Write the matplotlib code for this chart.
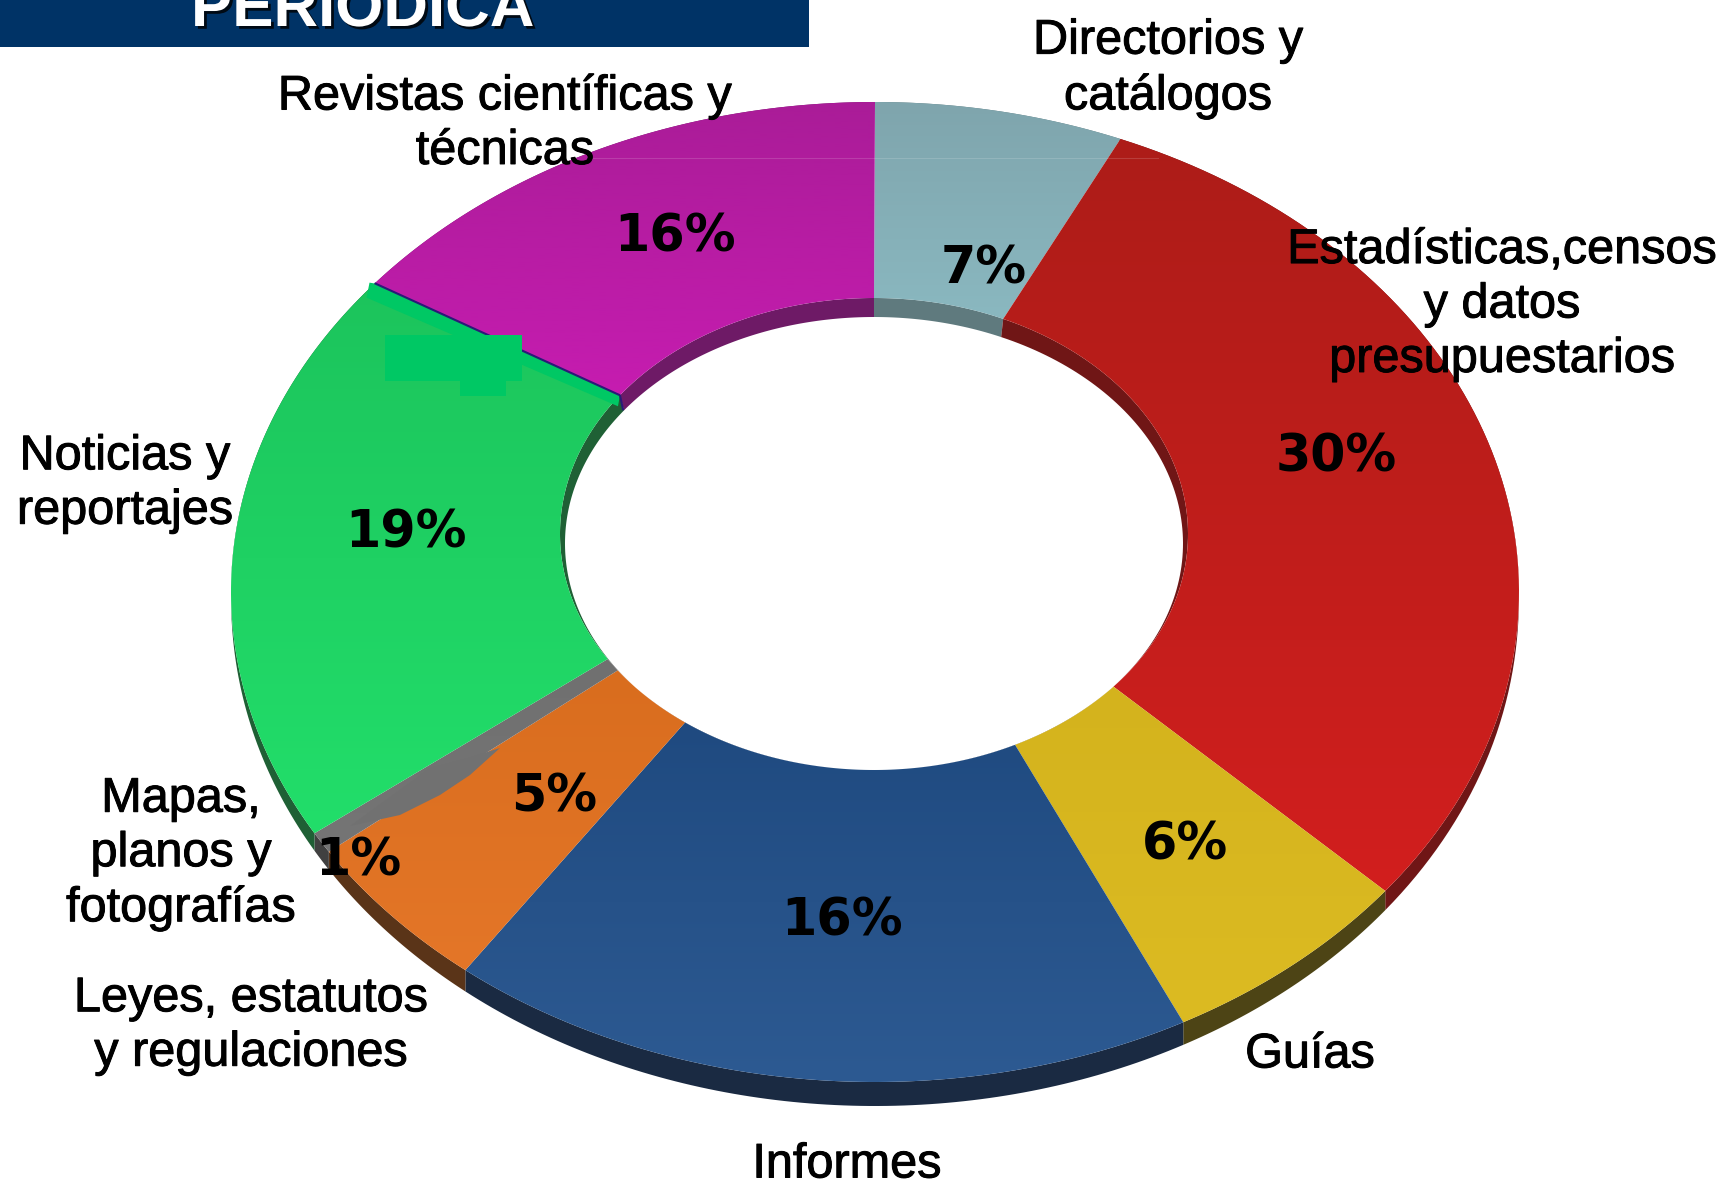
import numpy as np
import matplotlib
matplotlib.use('Agg')
import matplotlib.pyplot as plt
import matplotlib.patheffects as pe
from matplotlib.colors import to_rgb
from matplotlib.patches import Rectangle, Polygon

# ============================================================
# Data, clockwise from the top
# ============================================================
categories = ['Directorios y\ncatálogos', 'Estadísticas,censos\ny datos\npresupuestarios',
              'Guías', 'Informes', 'Leyes, estatutos\ny regulaciones',
              'Mapas,\nplanos y\nfotografías', 'Noticias y\nreportajes',
              'Revistas científicas y\ntécnicas']
values = [7, 30, 6, 16, 5, 1, 19, 16]
# sweep of each slice as drawn (the ring is in perspective, so not value * 3.6)
outer_sweep_deg = [22.4, 105.2, 23.8, 68.1, 18.5, 2.5, 68.5, 51.0]
inner_sweep_deg = [24.3, 106.0, 23.0, 63.7, 17.7, 3.3, 68.0, 54.0]
top_colors = ['#7fa5ad', '#ad1c18', '#d4b31d', '#1f4a80', '#d96d1e',
              '#707070', '#1cc45c', '#aa1c98']
bot_colors = ['#8ab8c0', '#d21f1e', '#dcbb22', '#2d5a92', '#e47628',
              '#757575', '#22de6a', '#c61cb0']
rim_colors = ['#5f7a7e', '#701616', '#4d4415', '#1a2a42', '#5a3418',
              '#404040', '#1f6035', '#6e1a66']
label_pos = [(1168, 69), (1502, 305), (1310, 1055), (847, 1165), (251, 1026),
             (181, 854), (125, 484), (505, 124)]
pct_pos = [(984, 269), (1336, 458), (1185, 846), (842, 921), (554, 798),
           (358, 861), (406, 534), (675, 237)]

W, H = 1724, 1182
fig = plt.figure(figsize=(W / 100, H / 100), dpi=100)
ax = fig.add_axes([0, 0, 1, 1])

# ring geometry in pixels: outer edge, inner edge of the top face, white hole
cx, cy, rx, ry = 875, 592, 644, 490
fx, fy, frx, fry = 874, 534, 314, 236
hx, hy, hrx, hry = 874, 543.5, 309, 226.5
rim = 22

outer_edges = 90 - np.r_[0, np.cumsum(outer_sweep_deg)]
inner_edges = 90 - np.r_[0, np.cumsum(inner_sweep_deg)]

for i in range(len(values)):
    th_o = np.radians(np.linspace(outer_edges[i], outer_edges[i + 1], 90))
    th_i = np.radians(np.linspace(inner_edges[i], inner_edges[i + 1], 90))
    xo, yo = cx + rx * np.cos(th_o), cy - ry * np.sin(th_o)
    xf, yf = fx + frx * np.cos(th_i), fy - fry * np.sin(th_i)
    xh, yh = hx + hrx * np.cos(th_i), hy - hry * np.sin(th_i)

    # darker side of the ring, below the outer edge and around the hole
    drop = rim * np.sqrt(np.clip(-np.sin(th_o), 0, 1)) + 2
    ax.fill(np.r_[xo, xo[::-1]], np.r_[yo + drop, yo[::-1]], color=rim_colors[i], lw=0, zorder=1)
    ax.fill(np.r_[xf, xh[::-1]], np.r_[yf, yh[::-1]], color=rim_colors[i], lw=0, zorder=1)

    # top face with a vertical gradient over the slice's own height
    xs, ys = np.r_[xo, xf[::-1]], np.r_[yo, yf[::-1]]
    top, bot = np.array(to_rgb(top_colors[i])), np.array(to_rgb(bot_colors[i]))
    grad = np.linspace(0, 1, 256)[:, None, None] * (bot - top)[None, None, :] + top
    im = ax.imshow(grad, extent=[0, W, ys.max(), ys.min()], aspect='auto', zorder=2,
                   interpolation='bilinear')
    im.set_clip_path(Polygon(np.c_[xs, ys], transform=ax.transData))

# leftovers from the original image
e_o, e_i = np.radians(outer_edges[7]), np.radians(inner_edges[7])
ex0, ey0 = cx + rx * np.cos(e_o), cy - ry * np.sin(e_o)
ex1, ey1 = fx + frx * np.cos(e_i), fy - fry * np.sin(e_i)
ax.fill([ex0 - 5, ex0 + 1, ex1, ex1 - 2, ex0 - 8], [ey0 - 1, ey0, ey1, ey1 + 11, ey0 + 14],
        color='#00c864', lw=0, zorder=4)
ax.plot([ex0 + 1, ex1, ex1 + 3], [ey0, ey1, ey1 + 14], color='#2a1a78', lw=1.5, zorder=4)
ax.add_patch(Rectangle((385, 335), 137, 46, color='#00c864', lw=0, zorder=4))
ax.add_patch(Rectangle((460, 381), 46, 15, color='#00c864', lw=0, zorder=4))
ax.fill([350, 430, 468, 500, 470, 440, 400], [826, 768, 758, 748, 775, 795, 815],
        color='#717171', lw=0, zorder=4)
ax.plot([588, 1158], [158, 158], color='white', alpha=0.15, lw=0.8, zorder=4)

for (x, y), lab in zip(label_pos, categories):
    ax.text(x, y, lab, ha='center', va='center', fontsize=35, color='black',
            family='Liberation Sans', linespacing=1.27, zorder=5,
            path_effects=[pe.withStroke(linewidth=0.7, foreground='black')])
for (x, y), v in zip(pct_pos, values):
    ax.text(x, y, f'{v}%', ha='center', va='center', fontsize=36.5, color='black',
            fontweight='bold', family='DejaVu Sans', zorder=5)

# title bar cut off at the top
ax.add_patch(Rectangle((0, 0), 809, 47, color='#003366', lw=0, zorder=3))
ax.text(191, 26, 'PERIÓDICA', ha='left', va='baseline', fontsize=44.5, color='white',
        fontweight='bold', family='Liberation Sans', zorder=4,
        path_effects=[pe.withSimplePatchShadow(offset=(2, -2), shadow_rgbFace='black', alpha=0.8)])

ax.set_xlim(0, W)
ax.set_ylim(H, 0)
ax.axis('off')
fig.savefig('out.png', dpi=100)
